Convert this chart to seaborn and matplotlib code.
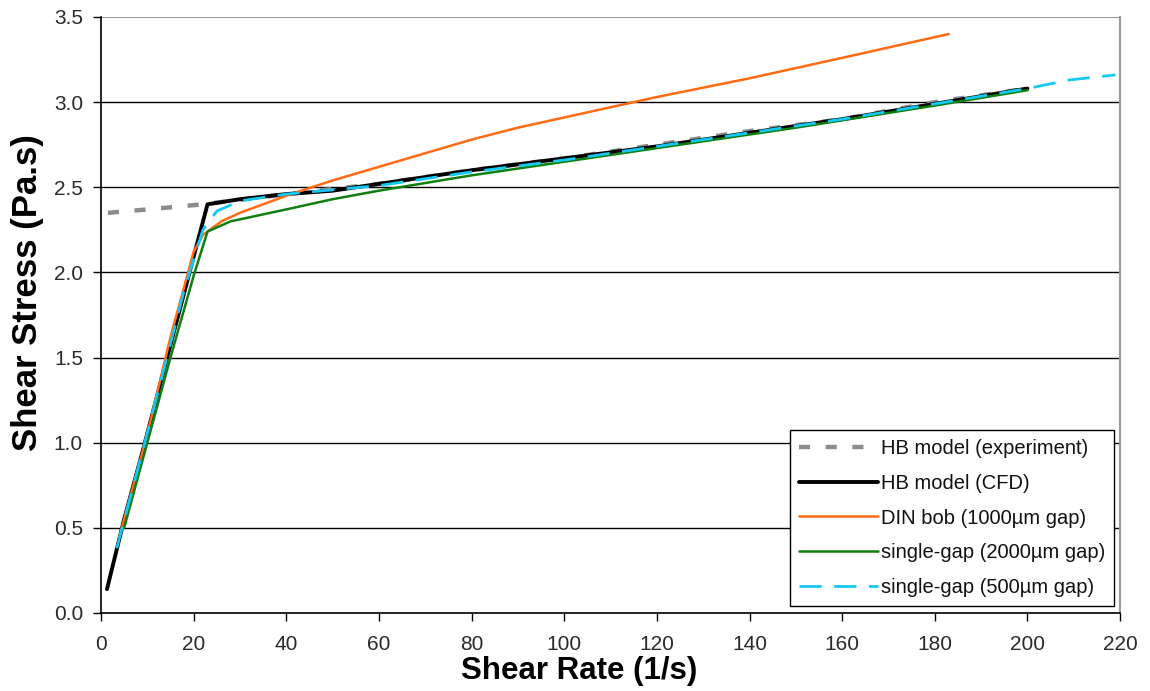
import matplotlib
matplotlib.use("Agg")
import matplotlib.pyplot as plt
import seaborn as sns
import pandas as pd

# ---- data ----
hb_exp_x = [1.5, 10, 22, 40, 60, 80, 100, 120, 140, 160, 180, 200]
hb_exp_y = [2.35, 2.37, 2.40, 2.46, 2.52, 2.60, 2.67, 2.75, 2.83, 2.90, 3.00, 3.08]

hb_cfd_x = [1.3, 5, 9, 14, 19.6, 23, 30, 40, 50, 60, 80, 100, 120, 140, 160, 180, 200]
hb_cfd_y = [0.14, 0.55, 0.95, 1.47, 2.05, 2.40, 2.43, 2.46, 2.48, 2.52, 2.60, 2.67, 2.74, 2.82, 2.90, 2.99, 3.08]

din_x = [4, 10, 15, 20, 22, 26, 30, 40, 50, 60, 70, 80, 90, 100, 110, 120, 140, 160, 183]
din_y = [0.45, 1.05, 1.62, 2.12, 2.22, 2.30, 2.35, 2.45, 2.54, 2.62, 2.70, 2.78, 2.85, 2.91, 2.97, 3.03, 3.14, 3.26, 3.40]

sg2000_x = [5, 10, 15, 20, 23, 28, 40, 50, 60, 80, 100, 120, 150, 180, 200]
sg2000_y = [0.50, 1.00, 1.50, 1.98, 2.24, 2.30, 2.37, 2.43, 2.48, 2.57, 2.65, 2.73, 2.85, 2.98, 3.07]

sg500_x = [3.4, 8, 13, 18, 22, 25, 30, 40, 60, 80, 100, 120, 140, 160, 180, 200, 209, 219]
sg500_y = [0.38, 0.85, 1.37, 1.90, 2.25, 2.36, 2.42, 2.46, 2.51, 2.59, 2.66, 2.74, 2.82, 2.90, 2.99, 3.08, 3.13, 3.16]

x_ticks = list(range(0, 221, 20))
y_ticks = [0.0, 0.5, 1.0, 1.5, 2.0, 2.5, 3.0, 3.5]

sns.set_style("white")
plt.rcParams['font.family'] = ['Liberation Sans', 'DejaVu Sans']

fig = plt.figure(figsize=(11.5, 6.91), dpi=100)
ax = fig.add_axes([0.0878, 0.1129, 0.974 - 0.0878, 0.9754 - 0.1129])

# gridlines
for yt in y_ticks[1:-1]:
    ax.axhline(yt, color='black', lw=1.0, zorder=0)
ax.axhline(3.5, color='#999999', lw=1.5, zorder=0)

series = [
    (hb_exp_x, hb_exp_y, "HB model (experiment)", "#8c8c8c", 3.2, (0, (2.5, 3.5))),
    (hb_cfd_x, hb_cfd_y, "HB model (CFD)", "black", 2.8, "-"),
    (din_x, din_y, "DIN bob (1000µm gap)", "#ff6a13", 1.8, "-"),
    (sg2000_x, sg2000_y, "single-gap (2000µm gap)", "#0f7f0f", 1.8, "-"),
    (sg500_x, sg500_y, "single-gap (500µm gap)", "#14c8f5", 2.0, (0, (8, 4.5))),
]
for xs, ys, lab, col, lw, ls in series:
    df = pd.DataFrame({"x": xs, "y": ys})
    sns.lineplot(data=df, x="x", y="y", ax=ax, color=col, lw=lw, linestyle=ls,
                 label=lab, sort=False, estimator=None, zorder=3)

ax.set_xlim(0, 220)
ax.set_ylim(0, 3.5)
ax.set_xticks(x_ticks)
ax.set_yticks(y_ticks)
ax.set_xticklabels([str(v) for v in x_ticks])
ax.set_yticklabels([f"{v:.1f}" for v in y_ticks])
ax.tick_params(axis='both', direction='out', length=6, width=1, color='black',
               labelsize=15, labelcolor='#2a2a2a', left=True, bottom=True)
ax.tick_params(axis='x', pad=10)
ax.tick_params(axis='y', pad=7)

ax.set_xlabel("Shear Rate (1/s)", fontsize=22.5, fontweight='bold', color='black')
ax.set_ylabel("Shear Stress (Pa.s)", fontsize=25, fontweight='bold', color='black')
ax.xaxis.set_label_coords(0.469, -0.072)
ax.yaxis.set_label_coords(-0.056, 0.538)

for s in ['left', 'bottom']:
    ax.spines[s].set_color('black')
    ax.spines[s].set_linewidth(1.2)
ax.spines['right'].set_color('#999999')
ax.spines['right'].set_linewidth(1.5)
ax.spines['top'].set_visible(False)

leg = ax.legend(loc='lower right', bbox_to_anchor=(0.994, 0.0117), fontsize=14.5,
                frameon=True, fancybox=False, edgecolor='black', framealpha=1,
                handlelength=3.9, handletextpad=0.15, borderpad=0.45,
                labelspacing=0.78, borderaxespad=0.0)
leg.get_frame().set_linewidth(1.0)
for t in leg.get_texts():
    t.set_color('#111111')

fig.savefig("out.png", dpi=100, facecolor='white')
